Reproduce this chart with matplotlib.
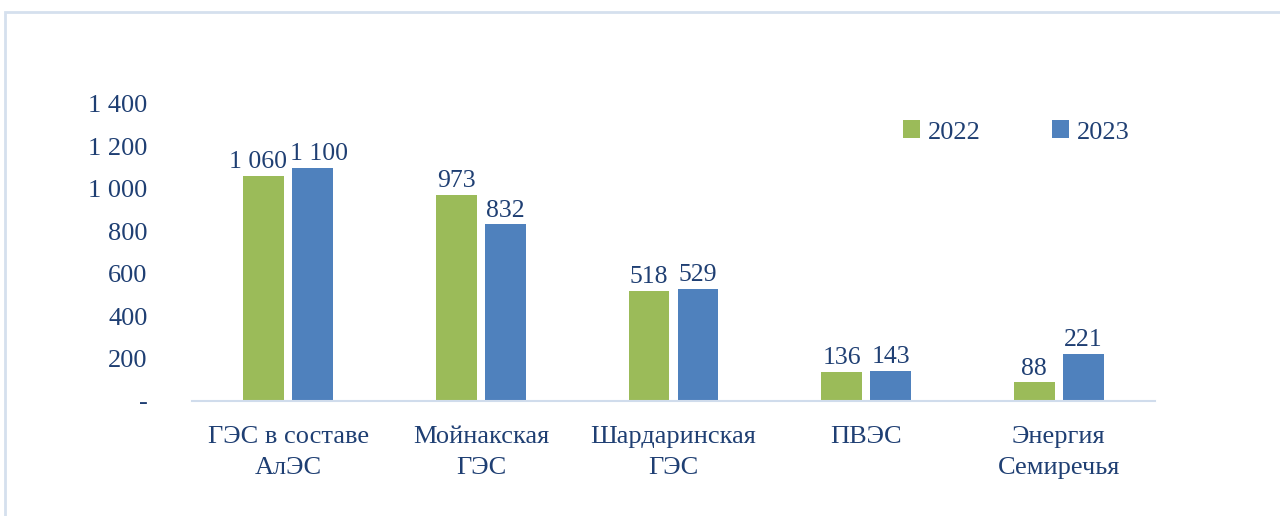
import matplotlib
matplotlib.use('agg')
import matplotlib.pyplot as plt
from matplotlib.patches import Rectangle
import numpy as np

categories = ["ГЭС в составе\nАлЭС", "Мойнакская\nГЭС", "Шардаринская\nГЭС", "ПВЭС", "Энергия\nСемиречья"]
vals_2022 = [1060, 973, 518, 136, 88]
vals_2023 = [1100, 832, 529, 143, 221]
yticks = [0, 200, 400, 600, 800, 1000, 1200, 1400]

plt.rcParams.update({
    "font.family": ["Liberation Serif", "DejaVu Serif"],
    "font.size": 19})

txt_color = "#1F3F73"
green = "#9BBB59"
blue = "#4F81BD"

def fmt(v):
    if v == 0:
        return "-"
    return "{:,}".format(v).replace(",", " ")

fig = plt.figure(figsize=(12.8, 5.16), dpi=100)
fig.patches.append(Rectangle((5/1280, -0.1), 1.1, 1.1 - 12/516,
                             transform=fig.transFigure, fill=False,
                             edgecolor="#D5E0EE", linewidth=2))
ax = fig.add_axes([192/1280, 115/516, 963/1280, 297/516])

x = np.arange(len(categories))
w = 0.212
off = 0.127
b1 = ax.bar(x - off, vals_2022, w, color=green, label="2022")
b2 = ax.bar(x + off, vals_2023, w, color=blue, label="2023")

# labels of tall neighbouring bars get pushed apart a little, like excel does
for bars, vals, shift in ((b1, vals_2022, -4.5), (b2, vals_2023, 4.5)):
    for i, (r, v) in enumerate(zip(bars, vals)):
        dx = shift if i == 0 else 0
        ax.annotate(fmt(v), (r.get_x() + r.get_width()/2, v), xytext=(dx, 2),
                    textcoords="offset points", ha="center", va="bottom",
                    color=txt_color, fontsize=18.5)

ax.set_xlim(-0.5, 4.5)
ax.set_ylim(0, 1400)
ax.set_yticks(yticks)
ax.set_yticklabels([fmt(t) for t in yticks], color=txt_color)
ax.set_xticks(x)
ax.set_xticklabels(categories, color=txt_color, linespacing=1.55)
ax.tick_params(axis="both", length=0)
ax.tick_params(axis="y", pad=32)
ax.tick_params(axis="x", pad=18)
for s in ["top", "right", "left"]:
    ax.spines[s].set_visible(False)
ax.spines["bottom"].set_color("#D0DCEC")
ax.spines["bottom"].set_linewidth(1.5)

fig.legend(handles=[b1, b2], loc="center left", bbox_to_anchor=(879/1280, 1 - 132/516),
           bbox_transform=fig.transFigure, ncol=2, frameon=False,
           handlelength=0.65, handleheight=0.65, handletextpad=0.3, columnspacing=2.7,
           labelcolor=txt_color, fontsize=19)

plt.savefig("out.png", dpi=100)
